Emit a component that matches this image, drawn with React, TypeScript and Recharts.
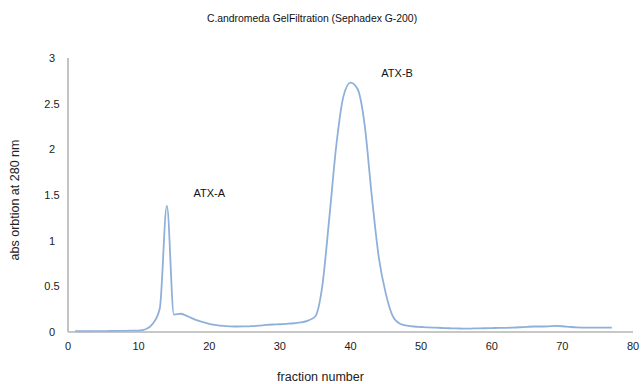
import { Label, Line, LineChart, ReferenceDot, XAxis, YAxis } from "recharts";

const fractions = [
  1, 2, 3, 4, 5, 6, 7, 8, 9, 10, 11, 12, 13, 14, 15, 16, 17, 18, 19, 20, 21,
  22, 23, 24, 25, 26, 27, 28, 29, 30, 31, 32, 33, 34, 35, 36, 37, 38, 39, 40,
  41, 42, 43, 44, 45, 46, 47, 48, 49, 50, 51, 52, 53, 54, 55, 56, 57, 58, 59,
  60, 61, 62, 63, 64, 65, 66, 67, 68, 69, 70, 71, 72, 73, 74, 75, 76, 77,
];

const absorbance = [
  0.01, 0.008, 0.008, 0.009, 0.01, 0.011, 0.012, 0.013, 0.014, 0.016, 0.03,
  0.09, 0.26, 1.38, 0.19, 0.2, 0.17, 0.135, 0.11, 0.09, 0.075, 0.066, 0.062,
  0.06, 0.062, 0.065, 0.07, 0.077, 0.082, 0.085, 0.09, 0.096, 0.105, 0.125,
  0.17, 0.5, 1.25, 2.05, 2.58, 2.73, 2.66, 2.27, 1.5, 0.82, 0.42, 0.17, 0.09,
  0.07, 0.06, 0.055, 0.05, 0.047, 0.044, 0.041, 0.039, 0.037, 0.038, 0.04,
  0.041, 0.043, 0.045, 0.046, 0.048, 0.052, 0.057, 0.06, 0.06, 0.062, 0.066,
  0.063, 0.056, 0.05, 0.048, 0.047, 0.047, 0.047, 0.047,
];

const xTicks = [0, 10, 20, 30, 40, 50, 60, 70, 80];
const yTicks = [0, 0.5, 1, 1.5, 2, 2.5, 3];

const peakNames = ["ATX-A", "ATX-B"];
const peakLabelX = [20, 46.6];
const peakLabelY = [1.52, 2.84];

const data = fractions.map((f, i) => ({ fraction: f, abs: absorbance[i] }));

const font = "'Liberation Sans', Arial, sans-serif";
const axisGray = "#b4b4b4";

export default function App() {
  return (
    <div
      style={{
        position: "absolute",
        left: 0,
        top: 0,
        width: 644,
        height: 384,
        background: "#fff",
        fontFamily: font,
      }}
    >
      <div
        style={{
          position: "absolute",
          left: 0,
          width: 624,
          top: 13,
          textAlign: "center",
          fontSize: 10.4,
          color: "#111",
        }}
      >
        C.andromeda GelFiltration (Sephadex G-200)
      </div>
      <LineChart
        width={644}
        height={384}
        data={data}
        margin={{ top: 58, right: 11, bottom: 0, left: 0 }}
      >
        <XAxis
          dataKey="fraction"
          type="number"
          domain={[0, 80]}
          ticks={xTicks}
          tickLine={false}
          tickSize={0}
          tickMargin={10}
          height={52}
          axisLine={{ stroke: axisGray, strokeWidth: 1.6 }}
          tick={{ fill: "#222", fontSize: 11, fontFamily: font }}
        >
          <Label
            value="fraction number"
            position="insideBottom"
            offset={3}
            dx={-30}
            style={{ fill: "#222", fontSize: 12.5, fontFamily: font }}
          />
        </XAxis>
        <YAxis
          type="number"
          domain={[0, 3]}
          ticks={yTicks}
          width={68}
          tickLine={false}
          tickSize={0}
          tickMargin={16}
          axisLine={{ stroke: axisGray, strokeWidth: 1.6 }}
          tick={{ fill: "#222", fontSize: 11, fontFamily: font, textAnchor: "middle" }}
        >
          <Label
            value="abs orbtion at 280 nm"
            angle={-90}
            position="center"
            dx={-19}
            dy={5}
            style={{ fill: "#222", fontSize: 12.5, fontFamily: font }}
          />
        </YAxis>
        <Line
          type="monotone"
          dataKey="abs"
          stroke="#8fb0da"
          strokeWidth={1.8}
          dot={false}
          isAnimationActive={false}
        />
        {peakNames.map((name, i) => (
          <ReferenceDot
            key={name}
            x={peakLabelX[i]}
            y={peakLabelY[i]}
            r={0}
            fill="none"
            stroke="none"
            label={{
              value: name,
              position: "center",
              style: { fill: "#111", fontSize: 11, fontFamily: font },
            }}
          />
        ))}
      </LineChart>
    </div>
  );
}
